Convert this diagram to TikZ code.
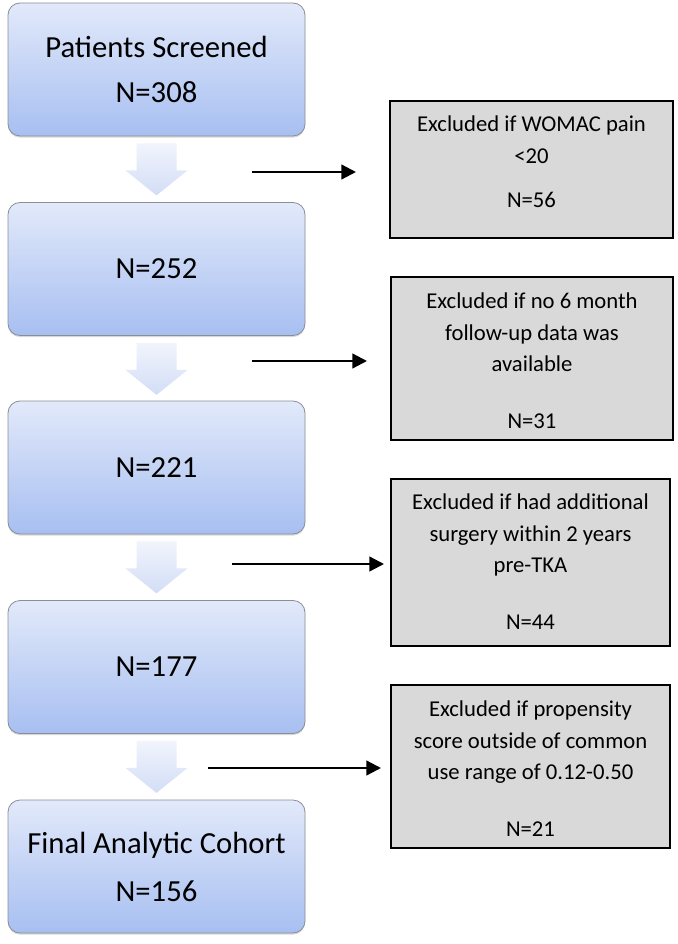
\documentclass[tikz,border=0pt]{standalone}
\usepackage{fontspec}
\setmainfont{Carlito}
\usetikzlibrary{calc,shadows,arrows.meta}
\definecolor{boxtop}{HTML}{E2E9FA}
\definecolor{boxbot}{HTML}{A7BFF1}
\definecolor{boxedge}{HTML}{8A8E96}
\definecolor{chevtop}{HTML}{F1F4FC}
\definecolor{chevbot}{HTML}{D2DDF6}
\definecolor{exfill}{HTML}{D9D9D9}
\tikzset{
  bluebox/.style={draw=boxedge, line width=0.6pt, rounded corners=9pt,
    top color=boxtop, bottom color=boxbot,
    minimum width=222.75pt, minimum height=99.75pt, inner sep=0pt,
    align=center, font=\fontsize{23}{28}\selectfont,
    drop shadow={opacity=0.3, shadow xshift=0pt, shadow yshift=-1.2pt, fill=gray}},
  exbox/.style={draw=black, line width=1.3pt, fill=exfill, inner sep=0pt},
  extext/.style={align=center, inner sep=0pt, anchor=base, font=\fontsize{17}{23.5}\selectfont},
  exarrow/.style={line width=1.7pt, -{Triangle[length=11pt,width=11pt]}},
  chev/.style={top color=chevtop, bottom color=chevbot, draw=none}
}
\newcommand\downchev[1]{%
  \shade[chev] ($(#1.south)+(-20,7)$) -- ($(#1.south)+(20,7)$) -- ($(#1.south)+(20,34)$)
    -- ($(#1.south)+(31,34)$) -- ($(#1.south)+(0,59)$) -- ($(#1.south)+(-31,34)$)
    -- ($(#1.south)+(-20,34)$) -- cycle;}
\begin{document}
\begin{tikzpicture}[x=0.75pt, y=-0.75pt]
\useasboundingbox[fill=white] (0,0) rectangle (677,944);
% left flow boxes
\node[bluebox] (b1) at (156.5,69.5) {Patients Screened\\[6pt]N=308};
\node[bluebox] (b2) at (156.5,269) {N=252};
\node[bluebox] (b3) at (156.5,467.5) {N=221};
\node[bluebox] (b4) at (156.5,667) {N=177};
\node[bluebox] (b5) at (156.5,866.5) {Final Analytic Cohort\\[8pt]N=156};
% block arrows
\downchev{b1}
\downchev{b2}
\downchev{b3}
\downchev{b4}
% exclusion boxes
\node[exbox, minimum width=212.25pt, minimum height=102.75pt] (e1) at (531.5,169.5) {};
\node[exbox, minimum width=211.5pt, minimum height=122.25pt] (e2) at (532,358.5) {};
\node[exbox, minimum width=209.25pt, minimum height=125.25pt] (e3) at (530.5,562.5) {};
\node[exbox, minimum width=209.25pt, minimum height=122.25pt] (e4) at (530.5,766.5) {};
\node[extext] (t1) at (531.5,208) {Excluded if WOMAC pain\\ {<}20\\[10pt] N=56};
\node[extext] (t2) at (532,428) {Excluded if no 6 month\\ follow-up data was\\ available\\[19pt] N=31};
\node[extext] (t3) at (530.5,629) {Excluded if had additional\\ surgery within 2 years\\ pre-TKA\\[19pt] N=44};
\node[extext] (t4) at (530.5,836) {Excluded if propensity\\ score outside of common\\ use range of 0.12-0.50\\[19pt] N=21};
% exclusion arrows
\coordinate (a1s) at (252,172); \coordinate (a1e) at (356,172);
\coordinate (a2s) at (252,361); \coordinate (a2e) at (367,361);
\coordinate (a3s) at (232,564); \coordinate (a3e) at (384,564);
\coordinate (a4s) at (208,768); \coordinate (a4e) at (381,768);
\draw[exarrow] (a1s) -- (a1e);
\draw[exarrow] (a2s) -- (a2e);
\draw[exarrow] (a3s) -- (a3e);
\draw[exarrow] (a4s) -- (a4e);
\end{tikzpicture}
\end{document}
